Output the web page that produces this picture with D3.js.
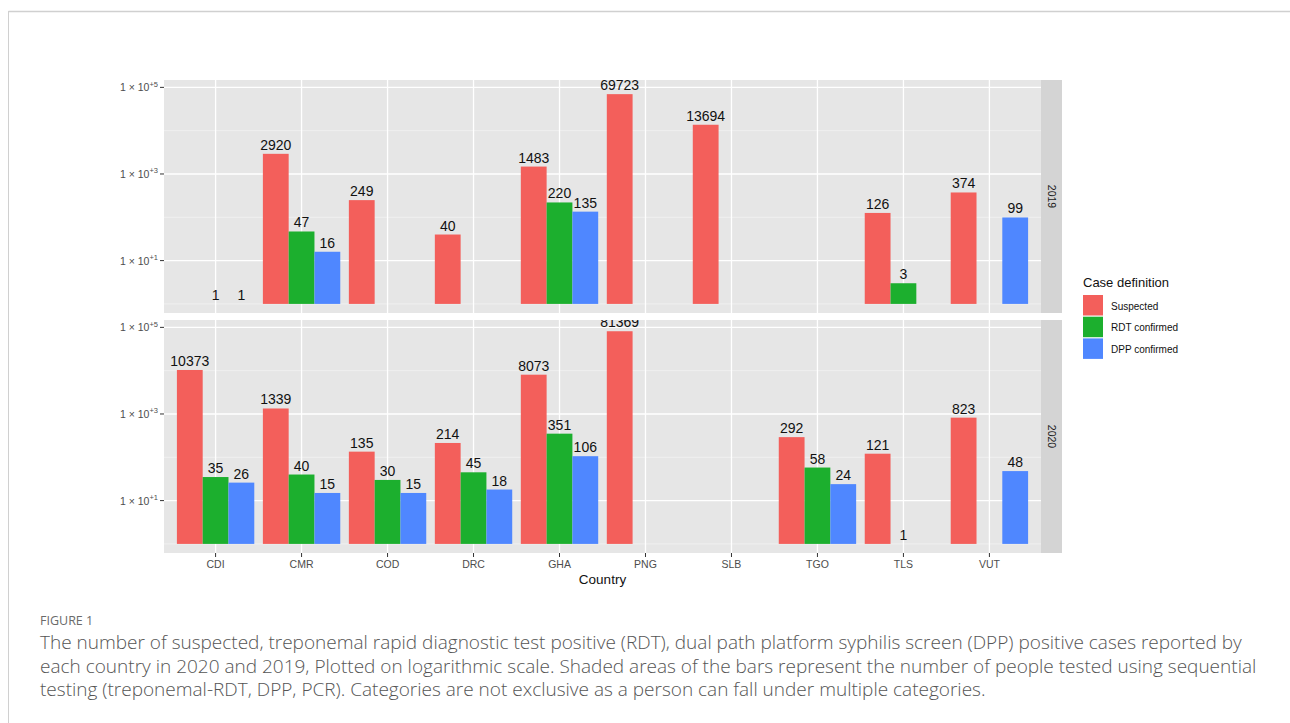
<!DOCTYPE html>
<html>
<head>
<meta charset="utf-8">
<script src="https://cdn.jsdelivr.net/npm/d3@7"></script>
<style>
  html, body { margin: 0; padding: 0; background: #ffffff; }
  svg { display: block; }
</style>
</head>
<body>
<svg id="chart" width="1290" height="723"></svg>
<script>
// ---------- data ----------
const countries = ["CDI", "CMR", "COD", "DRC", "GHA", "PNG", "SLB", "TGO", "TLS", "VUT"];
const seriesNames = ["Suspected", "RDT confirmed", "DPP confirmed"];
const seriesColors = ["#F35F5B", "#1CAF2E", "#4F87FF"];
const years = ["2019", "2020"];

const suspected2019 = [null, 2920, 249, 40, 1483, 69723, 13694, null, 126, 374];
const rdt2019       = [1, 47, null, null, 220, null, null, null, 3, null];
const dpp2019       = [1, 16, null, null, 135, null, null, null, null, 99];

const suspected2020 = [10373, 1339, 135, 214, 8073, 81369, null, 292, 121, 823];
const rdt2020       = [35, 40, 30, 45, 351, null, null, 58, 1, null];
const dpp2020       = [26, 15, 15, 18, 106, null, null, 24, null, 48];

const yTickValues = [10, 1000, 100000];
const yTickExponents = ["+1", "+3", "+5"];
const yMinorValues = [1, 100, 10000];

const captionLabel = "FIGURE 1";
const captionLines = [
  "The number of suspected, treponemal rapid diagnostic test positive (RDT), dual path platform syphilis screen (DPP) positive cases reported by",
  "each country in 2020 and 2019, Plotted on logarithmic scale. Shaded areas of the bars represent the number of people tested using sequential",
  "testing (treponemal-RDT, DPP, PCR). Categories are not exclusive as a person can fall under multiple categories."
];

const panelData = {
  "2019": [suspected2019, rdt2019, dpp2019],
  "2020": [suspected2020, rdt2020, dpp2020]
};

// ---------- layout ----------
const svg = d3.select("#chart");
const plotLeft = 164, plotRight = 1041;
const panelTops = [80, 320];
const panelH = 233;
const stripW = 21;
const font = "'Liberation Sans', Arial, sans-serif";

// frame lines
svg.append("line").attr("x1", 8.5).attr("x2", 1290).attr("y1", 11.5).attr("y2", 11.5)
  .attr("stroke", "#d0d0d0").attr("stroke-width", 1.5);
svg.append("line").attr("x1", 8.5).attr("x2", 8.5).attr("y1", 11).attr("y2", 723)
  .attr("stroke", "#d0d0d0").attr("stroke-width", 1);

// ggplot discrete expansion: 0.6 units each side
const xStep = (plotRight - plotLeft) / (countries.length - 1 + 1.2);
const xCenter = d3.scalePoint().domain(countries).range([plotLeft + 0.6 * xStep, plotRight - 0.6 * xStep]);
const dodgeW = 0.9 * xStep;
const xSub = d3.scaleBand().domain(seriesNames).range([-dodgeW / 2, dodgeW / 2]);

const logMin = -0.21, logMax = 5.17;

years.forEach((yr, pi) => {
  const top = panelTops[pi];
  const y = d3.scaleLog().domain([Math.pow(10, logMin), Math.pow(10, logMax)]).range([top + panelH, top]);
  const base = y(1);

  const g = svg.append("g");
  g.append("rect").attr("x", plotLeft).attr("y", top).attr("width", plotRight - plotLeft).attr("height", panelH)
    .attr("fill", "#E6E6E6");

  const clipId = "clip" + yr;
  svg.append("clipPath").attr("id", clipId).append("rect")
    .attr("x", plotLeft).attr("y", top).attr("width", plotRight - plotLeft).attr("height", panelH);

  g.selectAll(".minor").data(yMinorValues).enter().append("line")
    .attr("x1", plotLeft).attr("x2", plotRight)
    .attr("y1", d => y(d)).attr("y2", d => y(d))
    .attr("stroke", "#F2F2F2").attr("stroke-width", 0.8);
  g.selectAll(".major").data(yTickValues).enter().append("line")
    .attr("x1", plotLeft).attr("x2", plotRight)
    .attr("y1", d => y(d)).attr("y2", d => y(d))
    .attr("stroke", "#FFFFFF").attr("stroke-width", 1.3);
  g.selectAll(".vgrid").data(countries).enter().append("line")
    .attr("x1", d => xCenter(d)).attr("x2", d => xCenter(d))
    .attr("y1", top).attr("y2", top + panelH)
    .attr("stroke", "#FFFFFF").attr("stroke-width", 1.3);

  const items = [];
  seriesNames.forEach((s, si) => {
    panelData[yr][si].forEach((v, ci) => {
      if (v !== null) items.push({ country: countries[ci], series: s, si: si, value: v });
    });
  });

  const clipped = svg.append("g").attr("clip-path", "url(#" + clipId + ")");
  clipped.selectAll("rect.bar").data(items).enter().append("rect")
    .attr("class", "bar")
    .attr("x", d => xCenter(d.country) + xSub(d.series))
    .attr("width", xSub.bandwidth())
    .attr("y", d => y(d.value))
    .attr("height", d => base - y(d.value))
    .attr("fill", d => seriesColors[d.si]);

  clipped.selectAll("text.lab").data(items).enter().append("text")
    .attr("x", d => xCenter(d.country) + xSub(d.series) + xSub.bandwidth() / 2)
    .attr("y", d => y(d.value) - 4)
    .attr("text-anchor", "middle")
    .attr("font-family", font).attr("font-size", 14).attr("fill", "#111")
    .text(d => d.value);

  const ya = svg.append("g");
  yTickValues.forEach((v, i) => {
    ya.append("line").attr("x1", plotLeft - 4).attr("x2", plotLeft).attr("y1", y(v)).attr("y2", y(v))
      .attr("stroke", "#333").attr("stroke-width", 1);
    const t = ya.append("text").attr("x", plotLeft - 6).attr("y", y(v) + 4)
      .attr("text-anchor", "end").attr("font-family", font).attr("font-size", 10.5).attr("fill", "#4d4d4d");
    t.append("tspan").text("1 \u00d7 10");
    t.append("tspan").attr("dy", -4.5).attr("font-size", 7.5).text(yTickExponents[i]);
  });

  svg.append("rect").attr("x", plotRight).attr("y", top).attr("width", stripW).attr("height", panelH)
    .attr("fill", "#D4D4D4");
  svg.append("text")
    .attr("transform", `translate(${plotRight + stripW / 2 - 3.8},${top + panelH / 2}) rotate(90)`)
    .attr("text-anchor", "middle").attr("font-family", font).attr("font-size", 10.5).attr("fill", "#1a1a1a")
    .text(yr);

  if (pi === years.length - 1) {
    const xa = svg.append("g");
    countries.forEach(c => {
      xa.append("line").attr("x1", xCenter(c)).attr("x2", xCenter(c))
        .attr("y1", top + panelH).attr("y2", top + panelH + 4).attr("stroke", "#333");
      xa.append("text").attr("x", xCenter(c)).attr("y", top + panelH + 15)
        .attr("text-anchor", "middle").attr("font-family", font).attr("font-size", 10.5).attr("fill", "#4d4d4d")
        .text(c);
    });
    svg.append("text").attr("x", (plotLeft + plotRight) / 2).attr("y", top + panelH + 31)
      .attr("text-anchor", "middle").attr("font-family", font).attr("font-size", 13.5).attr("fill", "#111")
      .text("Country");
  }
});

// legend
const lg = svg.append("g").attr("transform", "translate(1083,0)");
lg.append("text").attr("x", 0).attr("y", 287).attr("font-family", font).attr("font-size", 13).attr("fill", "#111")
  .text("Case definition");
seriesNames.forEach((s, i) => {
  lg.append("rect").attr("x", 0).attr("y", 295 + i * 21.7).attr("width", 20).attr("height", 20.5)
    .attr("fill", seriesColors[i]);
  lg.append("text").attr("x", 28).attr("y", 295 + i * 21.7 + 14.5)
    .attr("font-family", font).attr("font-size", 10).attr("fill", "#111").text(s);
});

// caption
const capFont = "'Open Sans', 'Noto Sans', sans-serif";
svg.append("text").attr("x", 40).attr("y", 625).attr("font-family", capFont).attr("font-size", 12.5)
  .attr("fill", "#6a6a6a").text(captionLabel);
captionLines.forEach((line, i) => {
  svg.append("text").attr("x", 40).attr("y", 649 + i * 23.5).attr("font-family", capFont)
    .attr("font-size", 19).attr("font-weight", 300).attr("fill", "#555").text(line);
});
</script>
</body>
</html>
